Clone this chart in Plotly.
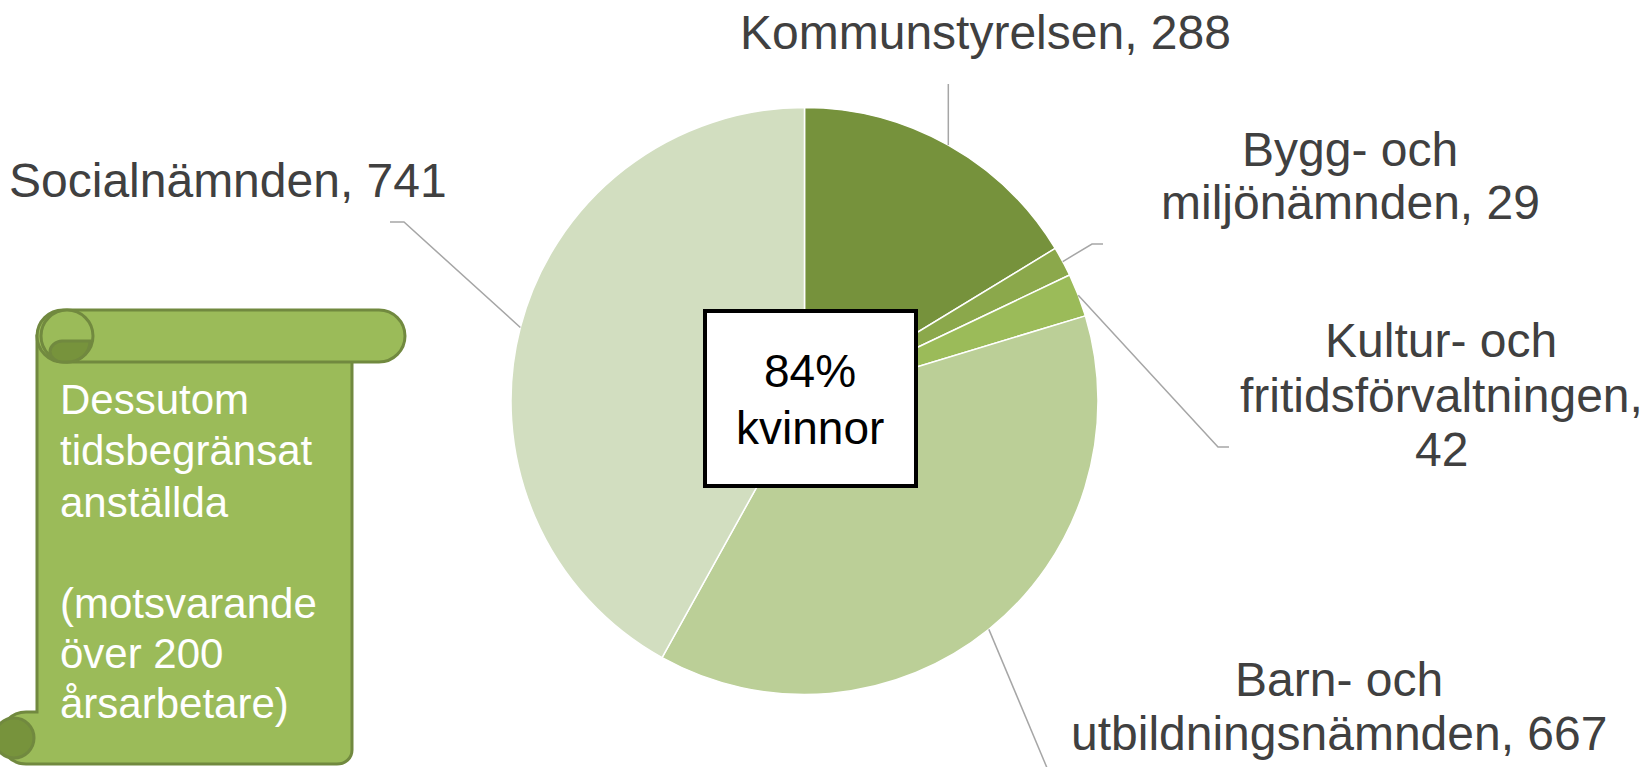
import math
import plotly.graph_objects as go

W, H = 1645, 767

# ---------------- data ----------------
categories = ["Kommunstyrelsen", "Bygg- och miljönämnden", "Kultur- och fritidsförvaltningen",
              "Barn- och utbildningsnämnden", "Socialnämnden"]
category_lines = [["Kommunstyrelsen"], ["Bygg- och", "miljönämnden"], ["Kultur- och", "fritidsförvaltningen"],
                  ["Barn- och", "utbildningsnämnden"], ["Socialnämnden"]]
value_on_own_line = [False, False, True, False, False]
values = [288, 29, 42, 667, 741]
colors = ["#76923C", "#8BA84B", "#9BBB59", "#BBCF97", "#D2DEC0"]

center_lines = ["84%", "kvinnor"]
scroll_lines = ["Dessutom", "tidsbegränsat", "anställda", "(motsvarande", "över 200", "årsarbetare)"]

# ---------------- layout geometry (pixels) ----------------
CX, CY, R = 804.5, 401.0, 293.5
label_pos = [  # (center x, baselines of each line)
    (986, [49]),
    (1350, [166, 219]),
    (1441, [357, 412, 466]),
    (1339, [696, 750]),
    (228, [197]),
]
leader_via = [  # intermediate / end points of leader lines
    [("same_x", 84)],
    [(1092, 244), (1103, 244)],
    [(1218, 447), (1229, 447)],
    [(1050, 775)],
    [(404, 222), (390, 222)],
]


def px(x, y):
    return x / W, 1 - y / H


def pstr(x, y):
    a, b = px(x, y)
    return f"{a:.5f},{b:.5f}"


def build_path(cmds):
    out = []
    for c in cmds:
        if c[0] == "Z":
            out.append("Z")
        elif c[0] == "C":
            out.append("C" + " ".join(pstr(*p) for p in c[1:]))
        else:
            out.append(c[0] + pstr(*c[1]))
    return " ".join(out)


fig = go.Figure()
fig.add_trace(go.Pie(
    labels=categories, values=values, sort=False, direction="clockwise", rotation=0,
    marker=dict(colors=colors, line=dict(color="white", width=1.5)),
    textinfo="none", hoverinfo="label+value", showlegend=False,
    domain=dict(x=[(CX - R) / W, (CX + R) / W], y=[(H - CY - R) / H, (H - CY + R) / H]),
))

shapes = []
annotations = []

# leader lines, starting at slice mid-angle on the pie edge
total = sum(values)
cum = 0
for i, v in enumerate(values):
    mid = (cum + v / 2) / total * 2 * math.pi
    cum += v
    sx, sy = CX + R * math.sin(mid), CY - R * math.cos(mid)
    pts = [(sx, sy)]
    for (x, y) in leader_via[i]:
        pts.append((sx if x == "same_x" else x, y))
    cmds = [("M", pts[0])] + [("L", p) for p in pts[1:]]
    shapes.append(dict(type="path", xref="paper", yref="paper", path=build_path(cmds),
                       line=dict(color="#A6A6A6", width=1.5)))

# labels
FS = 48
for i, (cx, baselines) in enumerate(label_pos):
    lines = list(category_lines[i])
    if value_on_own_line[i]:
        lines[-1] = lines[-1] + ","
        lines.append(f"{values[i]}")
    else:
        lines[-1] = lines[-1] + f", {values[i]}"
    for txt, bl in zip(lines, baselines):
        x, y = px(cx, bl - 0.3465 * FS)
        annotations.append(dict(x=x, y=y, xref="paper", yref="paper", text=txt, showarrow=False,
                                xanchor="center", yanchor="middle",
                                font=dict(family="Arial, Liberation Sans, sans-serif", size=FS, color="#404040")))

# center box
x0, y0 = px(705, 311)
x1, y1 = px(916, 486)
shapes.append(dict(type="rect", xref="paper", yref="paper", x0=x0, x1=x1, y0=y0, y1=y1,
                   fillcolor="white", line=dict(color="black", width=4)))
for txt, bl in zip(center_lines, [387, 444]):
    x, y = px(810, bl - 0.3465 * 46)
    annotations.append(dict(x=x, y=y, xref="paper", yref="paper", text=txt, showarrow=False,
                            xanchor="center", yanchor="middle",
                            font=dict(family="Arial, Liberation Sans, sans-serif", size=46, color="black")))

# scroll shape
GREEN = "#9BBB59"
DARK = "#77933C"
EDGE = "#71893F"
k = 0.5523
body = [("M", (37, 336)), ("L", (352, 336)), ("L", (352, 750)),
        ("C", (352, 758.3), (345.3, 764), (337, 764)),
        ("L", (26, 764)),
        ("C", (26 - 26 * k, 764), (0, 738 + 26 * k), (0, 738)),
        ("C", (0, 738 - 26 * k), (26 - 26 * k, 712), (26, 712)),
        ("L", (37, 712)), ("Z",)]
shapes.append(dict(type="path", xref="paper", yref="paper", path=build_path(body),
                   fillcolor=GREEN, line=dict(color=EDGE, width=3)))
# bottom-left curl
bx0, by0 = px(-6, 718)
bx1, by1 = px(34, 758)
shapes.append(dict(type="circle", xref="paper", yref="paper", x0=bx0, x1=bx1, y0=by0, y1=by1,
                   fillcolor=DARK, line=dict(color=EDGE, width=3)))
# top roll
roll = [("M", (63, 310)), ("L", (379, 310)),
        ("C", (379 + 26 * k, 310), (405, 336 - 26 * k), (405, 336)),
        ("C", (405, 336 + 26 * k), (379 + 26 * k, 362), (379, 362)),
        ("L", (63, 362)),
        ("C", (63 - 26 * k, 362), (37, 336 + 26 * k), (37, 336)),
        ("C", (37, 336 - 26 * k), (63 - 26 * k, 310), (63, 310)), ("Z",)]
shapes.append(dict(type="path", xref="paper", yref="paper", path=build_path(roll),
                   fillcolor=GREEN, line=dict(color=EDGE, width=3)))
# top-left curl circle
c0x, c0y = px(41, 310)
c1x, c1y = px(93, 362)
shapes.append(dict(type="circle", xref="paper", yref="paper", x0=c0x, x1=c1x, y0=c0y, y1=c1y,
                   fillcolor=GREEN, line=dict(color=EDGE, width=3)))
tongue = [("M", (90, 341)), ("L", (62, 341)),
          ("C", (56, 341), (50, 346), (50, 351.5)),
          ("C", (50, 357), (56, 362), (62, 362)),
          ("L", (67, 362)),
          ("C", (80, 362), (90, 353), (90, 341)), ("Z",)]
shapes.append(dict(type="path", xref="paper", yref="paper", path=build_path(tongue),
                   fillcolor=DARK, line=dict(color=EDGE, width=3)))

for txt, bl in zip(scroll_lines, [414, 465, 517, 618, 668, 718]):
    x, y = px(58, bl - 0.3465 * 42)
    annotations.append(dict(x=x, y=y, xref="paper", yref="paper", text=txt, showarrow=False,
                            xanchor="left", yanchor="middle",
                            font=dict(family="Arial, Liberation Sans, sans-serif", size=42, color="white")))

fig.update_layout(width=W, height=H, margin=dict(l=0, r=0, t=0, b=0),
                  paper_bgcolor="white", plot_bgcolor="white",
                  shapes=shapes, annotations=annotations, showlegend=False)
fig.write_html("out.html", config={"displayModeBar": False},
               post_script="document.body.style.margin='0';document.body.style.overflow='hidden';")
